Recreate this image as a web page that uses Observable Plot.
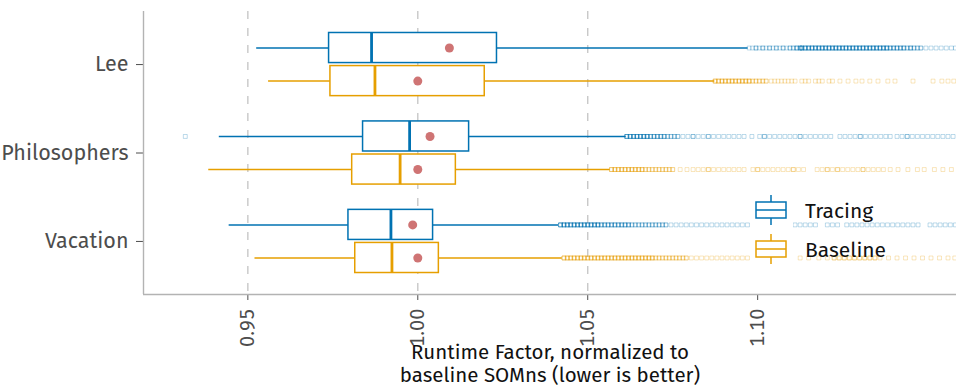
<!DOCTYPE html>
<html>
<head>
<meta charset="utf-8">
<script src="https://cdn.jsdelivr.net/npm/d3@7"></script>
<script src="https://cdn.jsdelivr.net/npm/@observablehq/plot@0.6"></script>
<style>
  body { margin: 0; background: #fff; }
  #wrap { position: relative; width: 956px; height: 390px; overflow: hidden; }
  #legend { position: absolute; left: 0; top: 0; pointer-events: none; }
</style>
</head>
<body>
<div id="wrap"></div>
<script>
// ---------- data ----------
const benchmarks = ["Lee", "Philosophers", "Vacation"];
const seriesNames = ["Tracing", "Baseline"];
const seriesColors = ["#0072B2", "#E69F00"];
const meanColor = "#CF7474";
const xTicks = [0.95, 1.00, 1.05, 1.10];
const gridValues = [0.95, 1.00, 1.05];
const xTitle = "Runtime Factor, normalized to\nbaseline SOMns (lower is better)";

// box statistics per benchmark (Lee, Philosophers, Vacation)
const tracingLow    = [0.9526, 0.9416, 0.9445];
const tracingQ1     = [0.9739, 0.9839, 0.9796];
const tracingMedian = [0.9864, 0.9976, 0.9921];
const tracingQ3     = [1.0233, 1.0151, 1.0045];
const tracingHigh   = [1.0972, 1.0613, 1.0414];
const tracingMean   = [1.0093, 1.0036, 0.9985];

const baselineLow    = [0.9561, 0.9385, 0.9521];
const baselineQ1     = [0.9743, 0.9807, 0.9816];
const baselineMedian = [0.9874, 0.9948, 0.9924];
const baselineQ3     = [1.0197, 1.0112, 1.0062];
const baselineHigh   = [1.0874, 1.0566, 1.0425];
const baselineMean   = [1.0000, 1.0000, 1.0000];

// outliers as [value, count]
const leeTracingOut = [[1.0975,1],[1.0985,1],[1.0995,2],[1.1005,1],[1.1015,2],[1.1025,1],[1.1035,2],[1.1045,1],[1.1055,2],[1.1065,1],[1.1075,2],[1.1085,1],[1.1095,2],[1.1105,2],[1.1115,3],[1.1125,3],[1.113,4],[1.114,4],[1.115,4],[1.116,4],[1.117,4],[1.118,4],[1.119,4],[1.12,4],[1.121,4],[1.122,4],[1.123,4],[1.124,4],[1.125,4],[1.126,4],[1.127,4],[1.128,4],[1.129,4],[1.13,4],[1.131,4],[1.132,4],[1.133,4],[1.134,4],[1.135,4],[1.136,4],[1.137,4],[1.138,4],[1.139,3],[1.14,3],[1.141,3],[1.142,3],[1.143,3],[1.144,2],[1.145,3],[1.146,2],[1.147,2],[1.148,2],[1.1495,1],[1.151,1],[1.1525,1],[1.154,1],[1.1555,1],[1.157,1],[1.1582,1]];
const leeBaselineOut = [[1.0875,3],[1.0885,3],[1.0895,3],[1.0905,3],[1.0915,3],[1.0925,3],[1.0935,3],[1.0945,3],[1.0955,3],[1.0965,3],[1.0975,3],[1.0985,2],[1.0995,2],[1.1005,2],[1.1015,2],[1.1025,2],[1.104,1],[1.105,1],[1.106,1],[1.107,1],[1.108,1],[1.109,1],[1.11,1],[1.111,1],[1.113,1],[1.114,1],[1.115,1],[1.117,1],[1.118,1],[1.119,1],[1.121,1],[1.122,1],[1.1242,1],[1.1266,1],[1.1289,1],[1.1307,1],[1.133,1],[1.1354,1],[1.1383,1],[1.1404,1],[1.1457,1],[1.1516,1],[1.1542,1],[1.156,1],[1.1577,1]];
const philoTracingOut = [[0.9316,1],[1.0615,4],[1.0625,4],[1.0635,4],[1.0645,4],[1.0655,4],[1.0665,4],[1.0675,4],[1.0685,3],[1.0695,3],[1.0705,3],[1.0715,3],[1.0725,3],[1.0735,2],[1.0745,2],[1.0755,2],[1.0765,2],[1.078,1],[1.0795,1],[1.081,2],[1.0825,1],[1.084,1],[1.0855,2],[1.087,1],[1.0885,1],[1.09,1],[1.0915,1],[1.093,1],[1.0945,1],[1.096,1],[1.0983,1],[1.1006,1],[1.102,2],[1.1035,1],[1.105,1],[1.1065,1],[1.108,1],[1.1095,1],[1.111,1],[1.1125,2],[1.114,1],[1.1155,1],[1.117,1],[1.1185,1],[1.12,1],[1.1215,1],[1.1242,1],[1.1257,1],[1.1272,1],[1.1287,1],[1.1302,2],[1.1317,1],[1.1332,1],[1.1347,1],[1.1362,1],[1.1377,1],[1.139,1],[1.141,1],[1.1425,1],[1.144,2],[1.1455,1],[1.147,1],[1.1485,1],[1.15,1],[1.1515,1],[1.153,1],[1.1545,1],[1.156,1],[1.1575,1]];
const philoBaselineOut = [[1.057,3],[1.058,3],[1.059,3],[1.06,3],[1.061,3],[1.062,3],[1.063,3],[1.064,3],[1.065,3],[1.066,3],[1.067,2],[1.068,2],[1.069,2],[1.07,2],[1.071,2],[1.072,2],[1.073,2],[1.074,2],[1.075,2],[1.0772,1],[1.0792,1],[1.081,1],[1.0825,1],[1.084,1],[1.0855,2],[1.087,1],[1.0885,1],[1.09,1],[1.0915,1],[1.093,1],[1.0945,1],[1.096,1],[1.0986,1],[1.1,2],[1.1015,1],[1.103,1],[1.1045,1],[1.106,1],[1.1075,1],[1.109,1],[1.1105,2],[1.112,1],[1.1135,1],[1.1175,1],[1.119,1],[1.1205,2],[1.122,1],[1.1235,2],[1.125,1],[1.1265,1],[1.128,1],[1.1295,1],[1.131,2],[1.1325,1],[1.134,1],[1.1355,1],[1.137,1],[1.139,1],[1.1413,1],[1.1442,1],[1.147,1],[1.149,1],[1.152,1],[1.1545,1],[1.157,1]];
const vacTracingOut = [[1.042,4],[1.043,4],[1.044,4],[1.045,4],[1.046,4],[1.047,4],[1.048,4],[1.049,4],[1.05,4],[1.051,4],[1.052,4],[1.053,4],[1.054,3],[1.055,3],[1.056,3],[1.057,3],[1.058,3],[1.059,3],[1.06,3],[1.061,3],[1.062,3],[1.063,2],[1.064,2],[1.065,2],[1.066,2],[1.067,2],[1.068,2],[1.069,2],[1.07,2],[1.071,2],[1.072,2],[1.073,2],[1.0745,1],[1.076,1],[1.0775,1],[1.079,1],[1.0805,1],[1.082,1],[1.0835,1],[1.085,1],[1.0865,1],[1.088,1],[1.0895,1],[1.091,1],[1.0925,1],[1.094,1],[1.0955,1],[1.097,1],[1.0985,1],[1.1,1],[1.1015,1],[1.103,1],[1.1045,1],[1.106,1],[1.1075,1],[1.1095,1],[1.111,1],[1.1125,1],[1.114,1],[1.1155,1],[1.117,1],[1.1205,1],[1.122,1],[1.1235,1],[1.1262,1],[1.1277,1],[1.1292,1],[1.1307,1],[1.1322,1],[1.1337,1],[1.1352,1],[1.1367,1],[1.1382,1],[1.1397,1],[1.1412,1],[1.1427,1],[1.1442,1],[1.1457,1],[1.1472,1],[1.1507,1],[1.1522,1],[1.1537,1],[1.1552,1],[1.1567,1],[1.1582,1]];
const vacBaselineOut = [[1.043,3],[1.044,3],[1.045,3],[1.046,3],[1.047,3],[1.048,3],[1.049,3],[1.05,3],[1.051,3],[1.052,3],[1.053,3],[1.054,3],[1.055,3],[1.056,3],[1.057,3],[1.058,3],[1.059,3],[1.06,3],[1.061,3],[1.062,3],[1.063,3],[1.064,3],[1.065,3],[1.066,3],[1.067,3],[1.068,3],[1.069,3],[1.07,2],[1.071,2],[1.072,2],[1.073,2],[1.074,2],[1.075,2],[1.076,2],[1.077,2],[1.078,2],[1.079,2],[1.0805,1],[1.082,1],[1.0835,1],[1.085,1],[1.0865,1],[1.088,1],[1.0895,1],[1.091,1],[1.0925,1],[1.094,1],[1.0955,1],[1.097,1],[1.0985,1],[1.1,1],[1.1015,1],[1.103,1],[1.1045,1],[1.106,1],[1.1075,1],[1.109,1],[1.1125,1],[1.115,1],[1.118,1],[1.1205,1],[1.1225,2],[1.124,2],[1.1255,2],[1.127,2],[1.1285,2],[1.13,2],[1.1315,2],[1.133,2],[1.1345,2],[1.136,1],[1.1385,1],[1.141,1],[1.1435,1],[1.146,1],[1.1485,1],[1.151,1],[1.1535,1],[1.156,1],[1.158,1]];

// ---------- build tables ----------
const dodge = {Tracing: -0.187, Baseline: 0.187};
const halfH = 0.17;
const stats = {
  Tracing:  {lo: tracingLow, q1: tracingQ1, med: tracingMedian, q3: tracingQ3, hi: tracingHigh, mean: tracingMean},
  Baseline: {lo: baselineLow, q1: baselineQ1, med: baselineMedian, q3: baselineQ3, hi: baselineHigh, mean: baselineMean}
};
const outliers = {
  Tracing:  [leeTracingOut, philoTracingOut, vacTracingOut],
  Baseline: [leeBaselineOut, philoBaselineOut, vacBaselineOut]
};
const boxes = [];
const outRows = [];
benchmarks.forEach((b, i) => {
  seriesNames.forEach(s => {
    const st = stats[s];
    const pos = i + dodge[s];
    boxes.push({bench: b, series: s, pos, lo: st.lo[i], q1: st.q1[i], med: st.med[i], q3: st.q3[i], hi: st.hi[i], mean: st.mean[i]});
    outliers[s][i].forEach(([v, n]) => { for (let k = 0; k < n; k++) outRows.push({series: s, pos, value: v}); });
  });
});

const FONT = "'Fira Sans', 'Open Sans', 'Noto Sans', sans-serif";

const plot = Plot.plot({
  width: 956,
  height: 390,
  marginLeft: 143,
  marginRight: 0,
  marginTop: 11,
  marginBottom: 96,
  style: {fontFamily: FONT, fontSize: "20px", color: "#4D4D4D", background: "white", overflow: "visible"},
  x: {domain: [0.9193, 1.1585], ticks: xTicks, tickFormat: d3.format(".2f"), tickRotate: -90, tickSize: 6, tickPadding: 8, label: null},
  y: {domain: [-0.6, 2.6], reverse: true, ticks: [0, 1, 2], tickFormat: i => benchmarks[i], tickSize: 7, tickPadding: 8, label: null},
  color: {domain: seriesNames, range: seriesColors},
  marks: [
    Plot.ruleX(gridValues, {stroke: "#C8C8C8", strokeWidth: 1.4, strokeDasharray: "8,9"}),
    Plot.ruleX([0.9193], {stroke: "#B3B3B3", strokeWidth: 1.4}),
    Plot.ruleY([2.6], {stroke: "#B3B3B3", strokeWidth: 1.4}),
    Plot.dot(outRows, {x: "value", y: "pos", symbol: "square", r: 2.2, fill: "none", stroke: "series", strokeOpacity: 0.26, strokeWidth: 1}),
    Plot.ruleY(boxes, {y: "pos", x1: "lo", x2: "q1", stroke: "series", strokeWidth: 1.5}),
    Plot.ruleY(boxes, {y: "pos", x1: "q3", x2: "hi", stroke: "series", strokeWidth: 1.5}),
    Plot.rect(boxes, {x1: "q1", x2: "q3", y1: d => d.pos - halfH, y2: d => d.pos + halfH, fill: "white", stroke: "series", strokeWidth: 1.5}),
    Plot.ruleX(boxes, {x: "med", y1: d => d.pos - halfH, y2: d => d.pos + halfH, stroke: "series", strokeWidth: 2.8}),
    Plot.dot(boxes, {x: "mean", y: "pos", r: 4.5, fill: meanColor}),
    Plot.text([xTitle], {text: d => d, frameAnchor: "bottom", dy: 69, lineAnchor: "middle", lineHeight: 1.1, fontSize: 20.5, fill: "#111"})
  ]
});
const wrap = document.getElementById("wrap");
wrap.appendChild(plot);

// enlarge y tick labels only
d3.select(plot).selectAll("[aria-label='y-axis tick label'] text, g[aria-label='y-axis'] text").attr("font-size", "21.5px");

// ---------- legend ----------
const lg = d3.select(wrap).append("svg").attr("id", "legend").attr("width", 956).attr("height", 390);
const legendTop = [195, 234];
seriesNames.forEach((s, i) => {
  const c = seriesColors[i];
  const t = legendTop[i];
  lg.append("rect").attr("x", 750).attr("y", t - 2).attr("width", 43).attr("height", 36).attr("fill", "white");
  lg.append("line").attr("x1", 771).attr("x2", 771).attr("y1", t).attr("y2", t + 7).attr("stroke", c).attr("stroke-width", 1.5);
  lg.append("line").attr("x1", 771).attr("x2", 771).attr("y1", t + 23).attr("y2", t + 30).attr("stroke", c).attr("stroke-width", 1.5);
  lg.append("rect").attr("x", 756).attr("y", t + 7).attr("width", 30).attr("height", 16).attr("fill", "white").attr("stroke", c).attr("stroke-width", 1.5);
  lg.append("line").attr("x1", 756).attr("x2", 786).attr("y1", t + 15).attr("y2", t + 15).attr("stroke", c).attr("stroke-width", 1.5);
  lg.append("text").attr("x", 805).attr("y", t + 23).attr("font-family", FONT).attr("font-size", 21).attr("fill", "#111").text(s);
});
</script>
</body>
</html>
